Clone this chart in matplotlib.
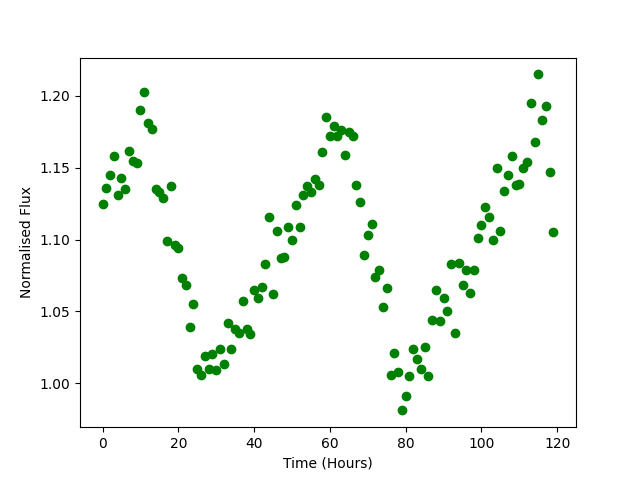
import matplotlib
matplotlib.use("Agg")
import matplotlib.pyplot as plt
import numpy as np

hours = list(range(120))
flux = [1.125, 1.136, 1.145, 1.158, 1.131, 1.143, 1.135, 1.162, 1.155, 1.153,
        1.190, 1.203, 1.181, 1.177, 1.135, 1.133, 1.129, 1.099, 1.137, 1.096,
        1.094, 1.073, 1.068, 1.039, 1.055, 1.010, 1.006, 1.019, 1.010, 1.020,
        1.009, 1.024, 1.013, 1.042, 1.024, 1.038, 1.035, 1.057, 1.038, 1.034,
        1.065, 1.059, 1.067, 1.083, 1.116, 1.062, 1.106, 1.087, 1.088, 1.109,
        1.100, 1.124, 1.109, 1.131, 1.137, 1.133, 1.142, 1.138, 1.161, 1.185,
        1.172, 1.179, 1.172, 1.176, 1.159, 1.175, 1.172, 1.138, 1.126, 1.089,
        1.103, 1.111, 1.074, 1.079, 1.053, 1.066, 1.006, 1.021, 1.008, 0.981,
        0.991, 1.005, 1.024, 1.017, 1.010, 1.025, 1.005, 1.044, 1.065, 1.043,
        1.059, 1.050, 1.083, 1.035, 1.084, 1.068, 1.079, 1.063, 1.079, 1.101,
        1.110, 1.123, 1.116, 1.100, 1.150, 1.106, 1.134, 1.145, 1.158, 1.138,
        1.139, 1.150, 1.154, 1.195, 1.168, 1.215, 1.183, 1.193, 1.147, 1.105]

fig, ax = plt.subplots(figsize=(6.4, 4.8), dpi=100)
ax.scatter(hours, flux, color='green')
ax.set_xlabel('Time (Hours)')
ax.set_ylabel('Normalised Flux')
fig.savefig('out.png')
